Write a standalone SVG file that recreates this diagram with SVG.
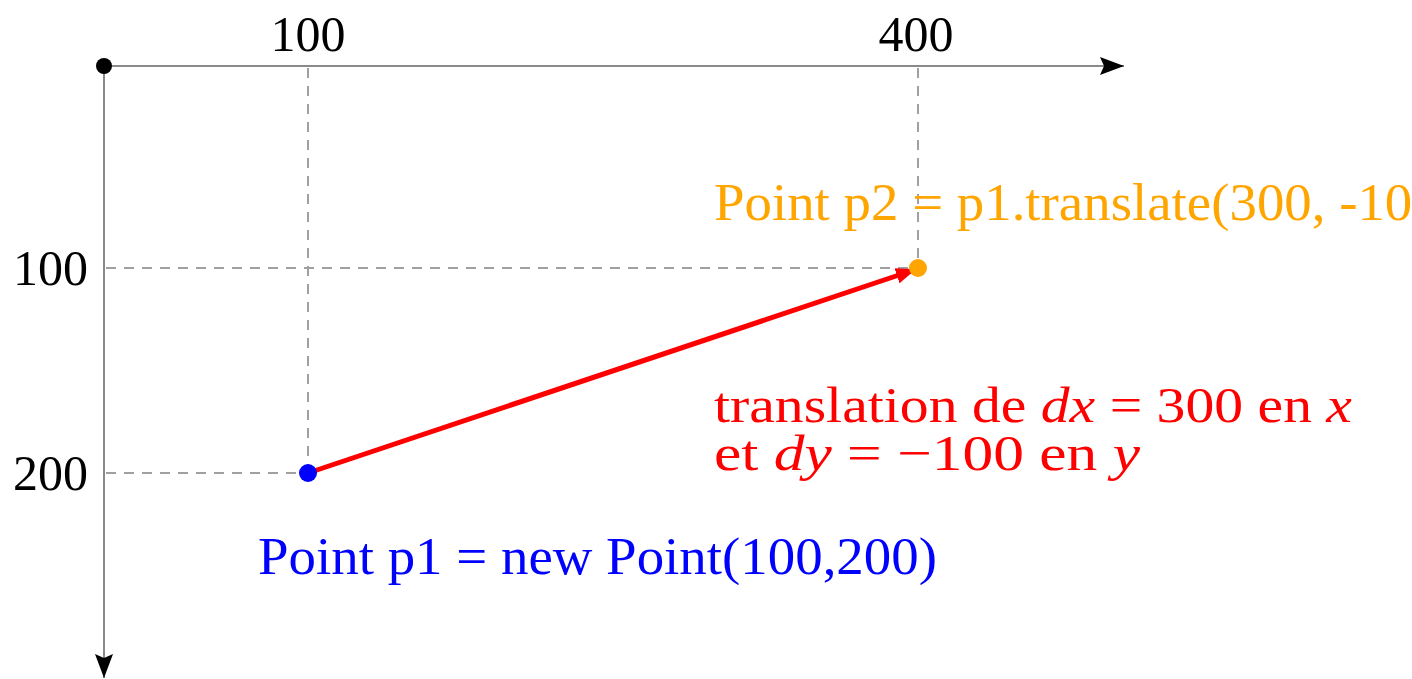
<svg xmlns="http://www.w3.org/2000/svg" width="1412" height="679" viewBox="0 0 1412 679">
<style>
text{font-family:"Liberation Serif","DejaVu Serif",serif;font-size:50px}
.big{font-size:52px}
.note{font-size:50px}
.ax{stroke:#8a8a8a;stroke-width:2;fill:none}
.gd{stroke:#a0a0a0;stroke-width:2;stroke-dasharray:10,8;fill:none}
.m{font-style:italic}
</style>
<defs>
<marker id="ahv" viewBox="0 0 24 18" markerWidth="24" markerHeight="18" refX="24" refY="9" orient="auto" markerUnits="userSpaceOnUse"><path d="M0,0 L24,9 L0,18 L4,9 Z" fill="#000"/></marker>
<marker id="rh" viewBox="0 0 20 16" markerWidth="20" markerHeight="16" refX="18" refY="8" orient="auto" markerUnits="userSpaceOnUse"><path d="M0,0 L20,8 L0,16 Z" fill="#ff0000"/></marker>
</defs>
<g id="grid">
<line class="gd" x1="308" y1="68" x2="308" y2="473"/>
<line class="gd" x1="918" y1="68" x2="918" y2="268"/>
<line class="gd" x1="106" y1="268" x2="918" y2="268"/>
<line class="gd" x1="106" y1="473" x2="308" y2="473"/>
</g>
<g id="connectors">
<line class="ax" x1="104" y1="66" x2="1124" y2="66" marker-end="url(#ahv)"/>
<line class="ax" x1="104" y1="66" x2="104" y2="678" marker-end="url(#ahv)"/>
<line x1="308" y1="473" x2="914" y2="270" stroke="#ff0000" stroke-width="5" marker-end="url(#rh)"/>
</g>
<g id="labels">
<text x="308" y="51" text-anchor="middle">100</text>
<text x="916" y="51" text-anchor="middle">400</text>
<text x="88" y="285" text-anchor="end">100</text>
<text x="88" y="490" text-anchor="end">200</text>
</g>
<g id="origin"><circle cx="104" cy="66" r="8" fill="#000"/></g>
<g id="p1"><circle cx="308" cy="473" r="9" fill="#0000ff"/>
<text class="big" x="258" y="574" fill="#0000ff" textLength="679" lengthAdjust="spacingAndGlyphs">Point p1 = new Point(100,200)</text></g>
<g id="p2"><circle cx="918" cy="268" r="9" fill="#ffa500"/>
<text class="big" x="714" y="220" fill="#ffa500" textLength="744" lengthAdjust="spacingAndGlyphs">Point p2 = p1.translate(300, -100)</text></g>
<g id="note">
<text class="note" x="714" y="422" fill="#ff0000" textLength="638" lengthAdjust="spacingAndGlyphs">translation de <tspan class="m">dx</tspan> = 300 en <tspan class="m">x</tspan></text>
<text class="note" x="714" y="470" fill="#ff0000" textLength="426" lengthAdjust="spacingAndGlyphs">et <tspan class="m">dy</tspan> = −100 en <tspan class="m">y</tspan></text>
</g>
</svg>
